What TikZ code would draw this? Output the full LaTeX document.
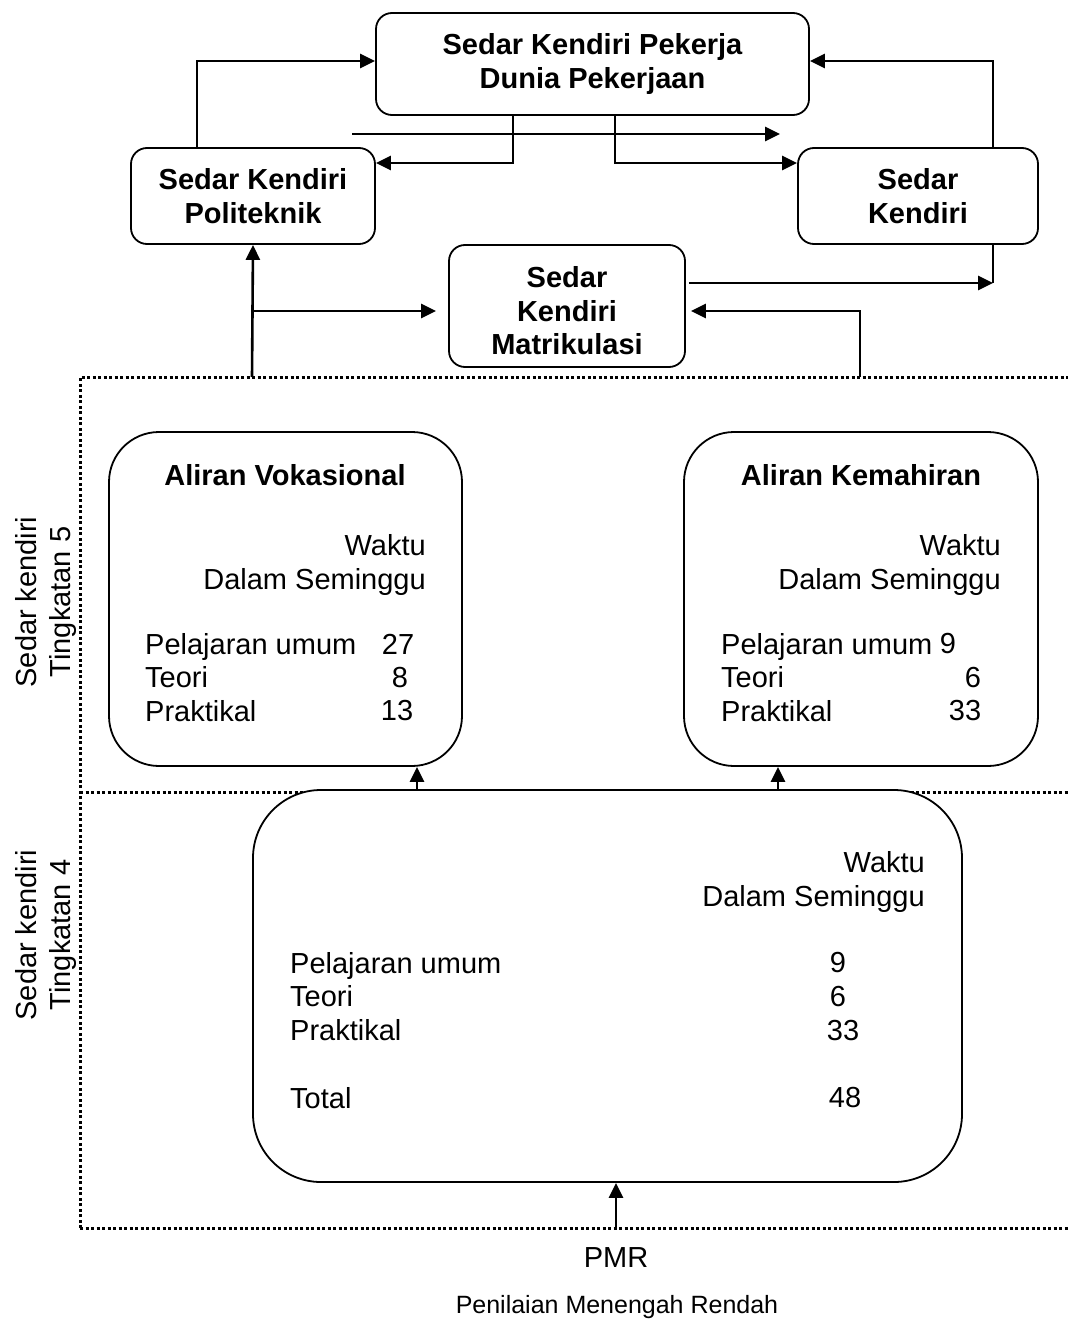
\documentclass[tikz,border=0pt]{standalone}
\usepackage{fontspec}
\setmainfont{Liberation Sans}
\usetikzlibrary{arrows.meta,positioning}
\tikzset{
  basic/.style     = {draw, line width=1.8pt, fill=white},
  topbox/.style    = {basic, rounded corners=16pt, align=center,
                      font=\fontsize{29}{33.5}\selectfont\bfseries},
  streambox/.style = {basic, rounded corners=50pt},
  basebox/.style   = {basic, rounded corners=68pt},
  txt/.style       = {inner sep=0pt, font=\fontsize{29}{33.5}\selectfont},
  title/.style     = {txt, font=\fontsize{29}{33.5}\selectfont\bfseries},
  dotline/.style   = {line width=3pt, dash pattern=on 3pt off 2.5pt},
  conn/.style      = {line width=2.6pt},
  arrow/.style     = {conn, -{Triangle[length=15pt,width=14pt]}}
}

\begin{document}
\begin{tikzpicture}[x=1pt, y=-1pt]

\useasboundingbox (0,0) rectangle (1068,1322);

% dotted frame of the two levels
\draw[dotline] (80,1228) -- (80,377) -- (1068,377);
\draw[dotline] (80,792) -- (1068,792);
\draw[dotline] (80,1228) -- (1068,1228);

% boxes above the frame
\node[topbox, minimum width=433pt, minimum height=102pt] (pekerja) at (592.5,64)
  {Sedar Kendiri Pekerja\\Dunia Pekerjaan};
\node[topbox, minimum width=244pt, minimum height=96pt] (poli) at (253,196)
  {Sedar Kendiri\\Politeknik};
\node[topbox, minimum width=240pt, minimum height=96pt] (kendiri) at (918,196)
  {Sedar\\Kendiri};
\node[topbox, minimum width=236pt, minimum height=122pt] (matrik) at (567,306) {};
\node[title, align=center] (matriktext) at (567,311) {Sedar\\Kendiri\\Matrikulasi};

% level 5
\node[streambox, minimum width=353pt, minimum height=334pt] (vokasional) at (285.5,599) {};
\node[title] (vtitle) at (285,475) {Aliran Vokasional};
\node[txt, align=right, anchor=east] (vwaktu) at (426,565) {Waktu\\Dalam Seminggu};
\node[txt, align=left, anchor=west] (vlabel) at (145,677.5) {Pelajaran umum\\Teori\\Praktikal};
\node[txt] (vumum) at (398,644) {27};
\node[txt] (vteori) at (400,678) {8};
\node[txt] (vprak) at (397,711) {13};

\node[streambox, minimum width=354pt, minimum height=334pt] (kemahiran) at (861,599) {};
\node[title] (ktitle) at (861,475) {Aliran Kemahiran};
\node[txt, align=right, anchor=east] (kwaktu) at (1001,565) {Waktu\\Dalam Seminggu};
\node[txt, align=left, anchor=west] (klabel) at (721,677.5) {Pelajaran umum\\Teori\\Praktikal};
\node[txt] (kumum) at (948,644) {9};
\node[txt] (kteori) at (973,678) {6};
\node[txt] (kprak) at (965,711) {33};

% level 4
\node[basebox, minimum width=709pt, minimum height=392pt] (asas) at (607.5,986) {};
\node[txt, align=right, anchor=east] (awaktu) at (925,882) {Waktu\\Dalam Seminggu};
\node[txt, align=left, anchor=west] (alabel) at (290,996.5) {Pelajaran umum\\Teori\\Praktikal};
\node[txt, anchor=west] (atotal) at (290,1098) {Total};
\node[txt] (aumum) at (838,963) {9};
\node[txt] (ateori) at (838,997) {6};
\node[txt] (aprak) at (843,1031) {33};
\node[txt] (ajumlah) at (845,1098) {48};

% side labels
\node[txt, align=center, rotate=90] (ting5) at (46,602) {Sedar kendiri\\Tingkatan 5};
\node[txt, align=center, rotate=90] (ting4) at (46,935) {Sedar kendiri\\Tingkatan 4};

% below the frame
\node[txt] (pmrlabel) at (616,1258) {PMR};
\node[txt, font=\fontsize{25}{29}\selectfont] (pmrname) at (617,1307) {Penilaian Menengah Rendah};

% free ends
\coordinate (fa) at (352,134);
\coordinate (fb) at (780,134);
\coordinate (kd) at (993,283);
\coordinate (pv) at (252,377);
\coordinate (km) at (860,377);
\coordinate (pmr) at (616,1228);

% connectors
\draw[arrow] ([xshift=-56pt]poli.north) |- ([yshift=3pt]pekerja.west);
\draw[arrow] ([xshift=75pt]kendiri.north) |- ([yshift=3pt]pekerja.east);
\draw[arrow] (fa) -- (fb);
\draw[arrow] ([xshift=-79.5pt]pekerja.south) |- ([yshift=33pt]poli.east);
\draw[arrow] ([xshift=22.5pt]pekerja.south) |- ([yshift=33pt]kendiri.west);
\draw[conn] ([xshift=75pt]kendiri.south) -- (kd);
\draw[arrow] ([xshift=3pt,yshift=23pt]matrik.east) -- (kd);
\draw[arrow] (pv) -- (poli.south);
\draw[arrow] (pv |- 0,311) -- ([xshift=-12pt,yshift=-5pt]matrik.west);
\draw[arrow] (km) |- ([xshift=5pt,yshift=-5pt]matrik.east);
\draw[arrow] ([xshift=131.5pt]vokasional.south |- asas.north) -- ([xshift=131.5pt]vokasional.south);
\draw[arrow] ([xshift=-83pt]kemahiran.south |- asas.north) -- ([xshift=-83pt]kemahiran.south);
\draw[arrow] (pmr) -- (pmr |- asas.south);

\end{tikzpicture}
\end{document}
